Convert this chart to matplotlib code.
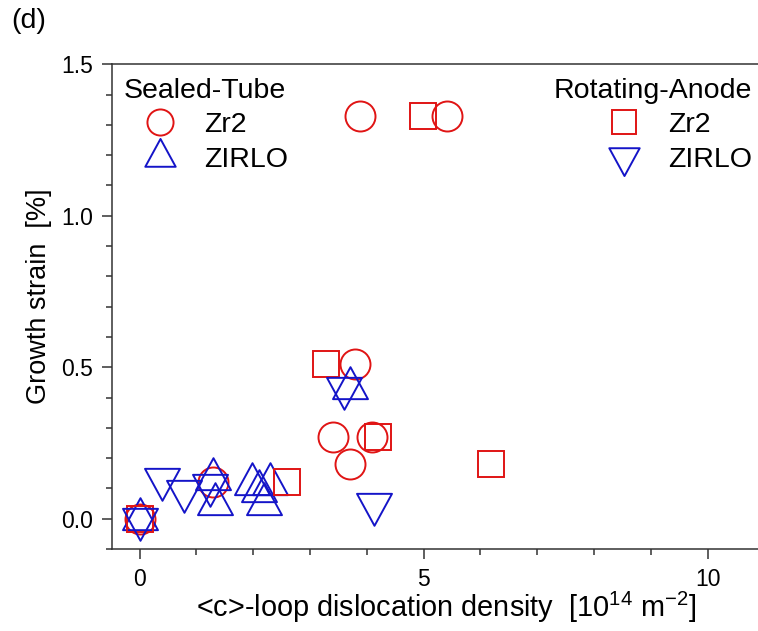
import matplotlib
matplotlib.use('Agg')
import matplotlib.pyplot as plt
from matplotlib.path import Path
from matplotlib.ticker import MultipleLocator, FormatStrFormatter

plt.rcParams['font.family'] = ['Liberation Sans', 'DejaVu Sans']
plt.rcParams['mathtext.fontset'] = 'custom'
plt.rcParams['mathtext.rm'] = 'Liberation Sans'
plt.rcParams['mathtext.it'] = 'Liberation Sans:italic'
plt.rcParams['mathtext.bf'] = 'Liberation Sans:bold'

# ---- data ----
st_zr2_x = [0.0, 1.30, 3.40, 3.71, 3.80, 4.10, 3.88, 5.41]
st_zr2_y = [0.0, 0.12, 0.27, 0.18, 0.51, 0.27, 1.33, 1.33]
st_zirlo_x = [0.0, 1.29, 1.33, 1.98, 2.10, 2.19, 2.30, 3.70]
st_zirlo_y = [0.0, 0.13, 0.05, 0.115, 0.09, 0.05, 0.115, 0.43]
ra_zr2_x = [0.0, 2.59, 3.28, 4.20, 6.19, 4.99]
ra_zr2_y = [0.0, 0.12, 0.51, 0.27, 0.18, 1.33]
ra_zirlo_x = [0.0, 0.39, 0.79, 1.24, 3.59, 4.13]
ra_zirlo_y = [0.0, 0.13, 0.09, 0.11, 0.43, 0.05]

x_ticks = [0, 5, 10]
y_ticks = [0.0, 0.5, 1.0, 1.5]

RED = '#E01414'
BLUE = '#1414C8'

codes = [Path.MOVETO, Path.LINETO, Path.LINETO, Path.CLOSEPOLY]
up_tri = Path([(0, 1), (-0.82, -0.5), (0.82, -0.5), (0, 1)], codes)
down_tri = Path([(0, -1), (-0.82, 0.5), (0.82, 0.5), (0, -1)], codes)

fig = plt.figure(figsize=(7.58, 6.31), dpi=100)
W, H = 758, 631
x0, x1, ytop, ybot = 111.7, 758, 64.3, 549
ax = fig.add_axes([x0 / W, (H - ybot) / H, (x1 - x0) / W, (ybot - ytop) / H])

mew = 1.4
l1, = ax.plot(st_zr2_x, st_zr2_y, ls='none', marker='o', ms=21.6, mfc='none',
              mec=RED, mew=mew, label='Zr2')
l2, = ax.plot(st_zirlo_x, st_zirlo_y, ls='none', marker=up_tri, ms=30.7, mfc='none',
              mec=BLUE, mew=mew, label='ZIRLO')
l3, = ax.plot(ra_zr2_x, ra_zr2_y, ls='none', marker='s', ms=19.4, mfc='none',
              mec=RED, mew=mew, label='Zr2')
l4, = ax.plot(ra_zirlo_x, ra_zirlo_y, ls='none', marker=down_tri, ms=30.7, mfc='none',
              mec=BLUE, mew=mew, label='ZIRLO')

ax.set_xlim(-0.49, 10.885)
ax.set_ylim(-0.1, 1.5)
ax.set_xticks(x_ticks)
ax.set_yticks(y_ticks)
ax.yaxis.set_major_formatter(FormatStrFormatter('%.1f'))
ax.xaxis.set_minor_locator(MultipleLocator(1))
ax.yaxis.set_minor_locator(MultipleLocator(0.1))

spc = '#333333'
for s in ['left', 'bottom', 'top']:
    ax.spines[s].set_color(spc)
    ax.spines[s].set_linewidth(1.1)
ax.spines['right'].set_visible(False)
ax.tick_params(which='both', direction='out', color=spc, width=1.1, top=False, right=False)
ax.tick_params(which='major', length=7.5, labelsize=16.5, pad=6)
ax.tick_params(which='minor', length=4)

ax.set_xlabel(r'<c>-loop dislocation density  [10$^{14}$ m$^{-2}$]', fontsize=20.8)
ax.set_ylabel('Growth strain  [%]', fontsize=19.5)
ax.xaxis.set_label_coords((446 - x0) / (x1 - x0), -0.084)
ax.yaxis.set_label_coords(-0.093, (ybot - 296) / (ybot - ytop))

common = dict(frameon=False, fontsize=20.5, title_fontsize=20.5,
              handlelength=2.5, handletextpad=0.3, labelspacing=0.3,
              borderpad=0, borderaxespad=0, markerscale=0.87)
leg1 = ax.legend(handles=[l1, l2], title='Sealed-Tube', loc='upper left',
                 bbox_to_anchor=((124 - x0) / (x1 - x0), 0.972),
                 alignment='left', **common)
ax.add_artist(leg1)
leg2 = ax.legend(handles=[l3, l4], title='Rotating-Anode', loc='upper right',
                 bbox_to_anchor=((752 - x0) / (x1 - x0), 0.972),
                 alignment='right', **common)

fig.text(11 / W, 1 - 21 / H, '(d)', fontsize=20.5, va='center', ha='left')

fig.savefig('out.png', dpi=100)
